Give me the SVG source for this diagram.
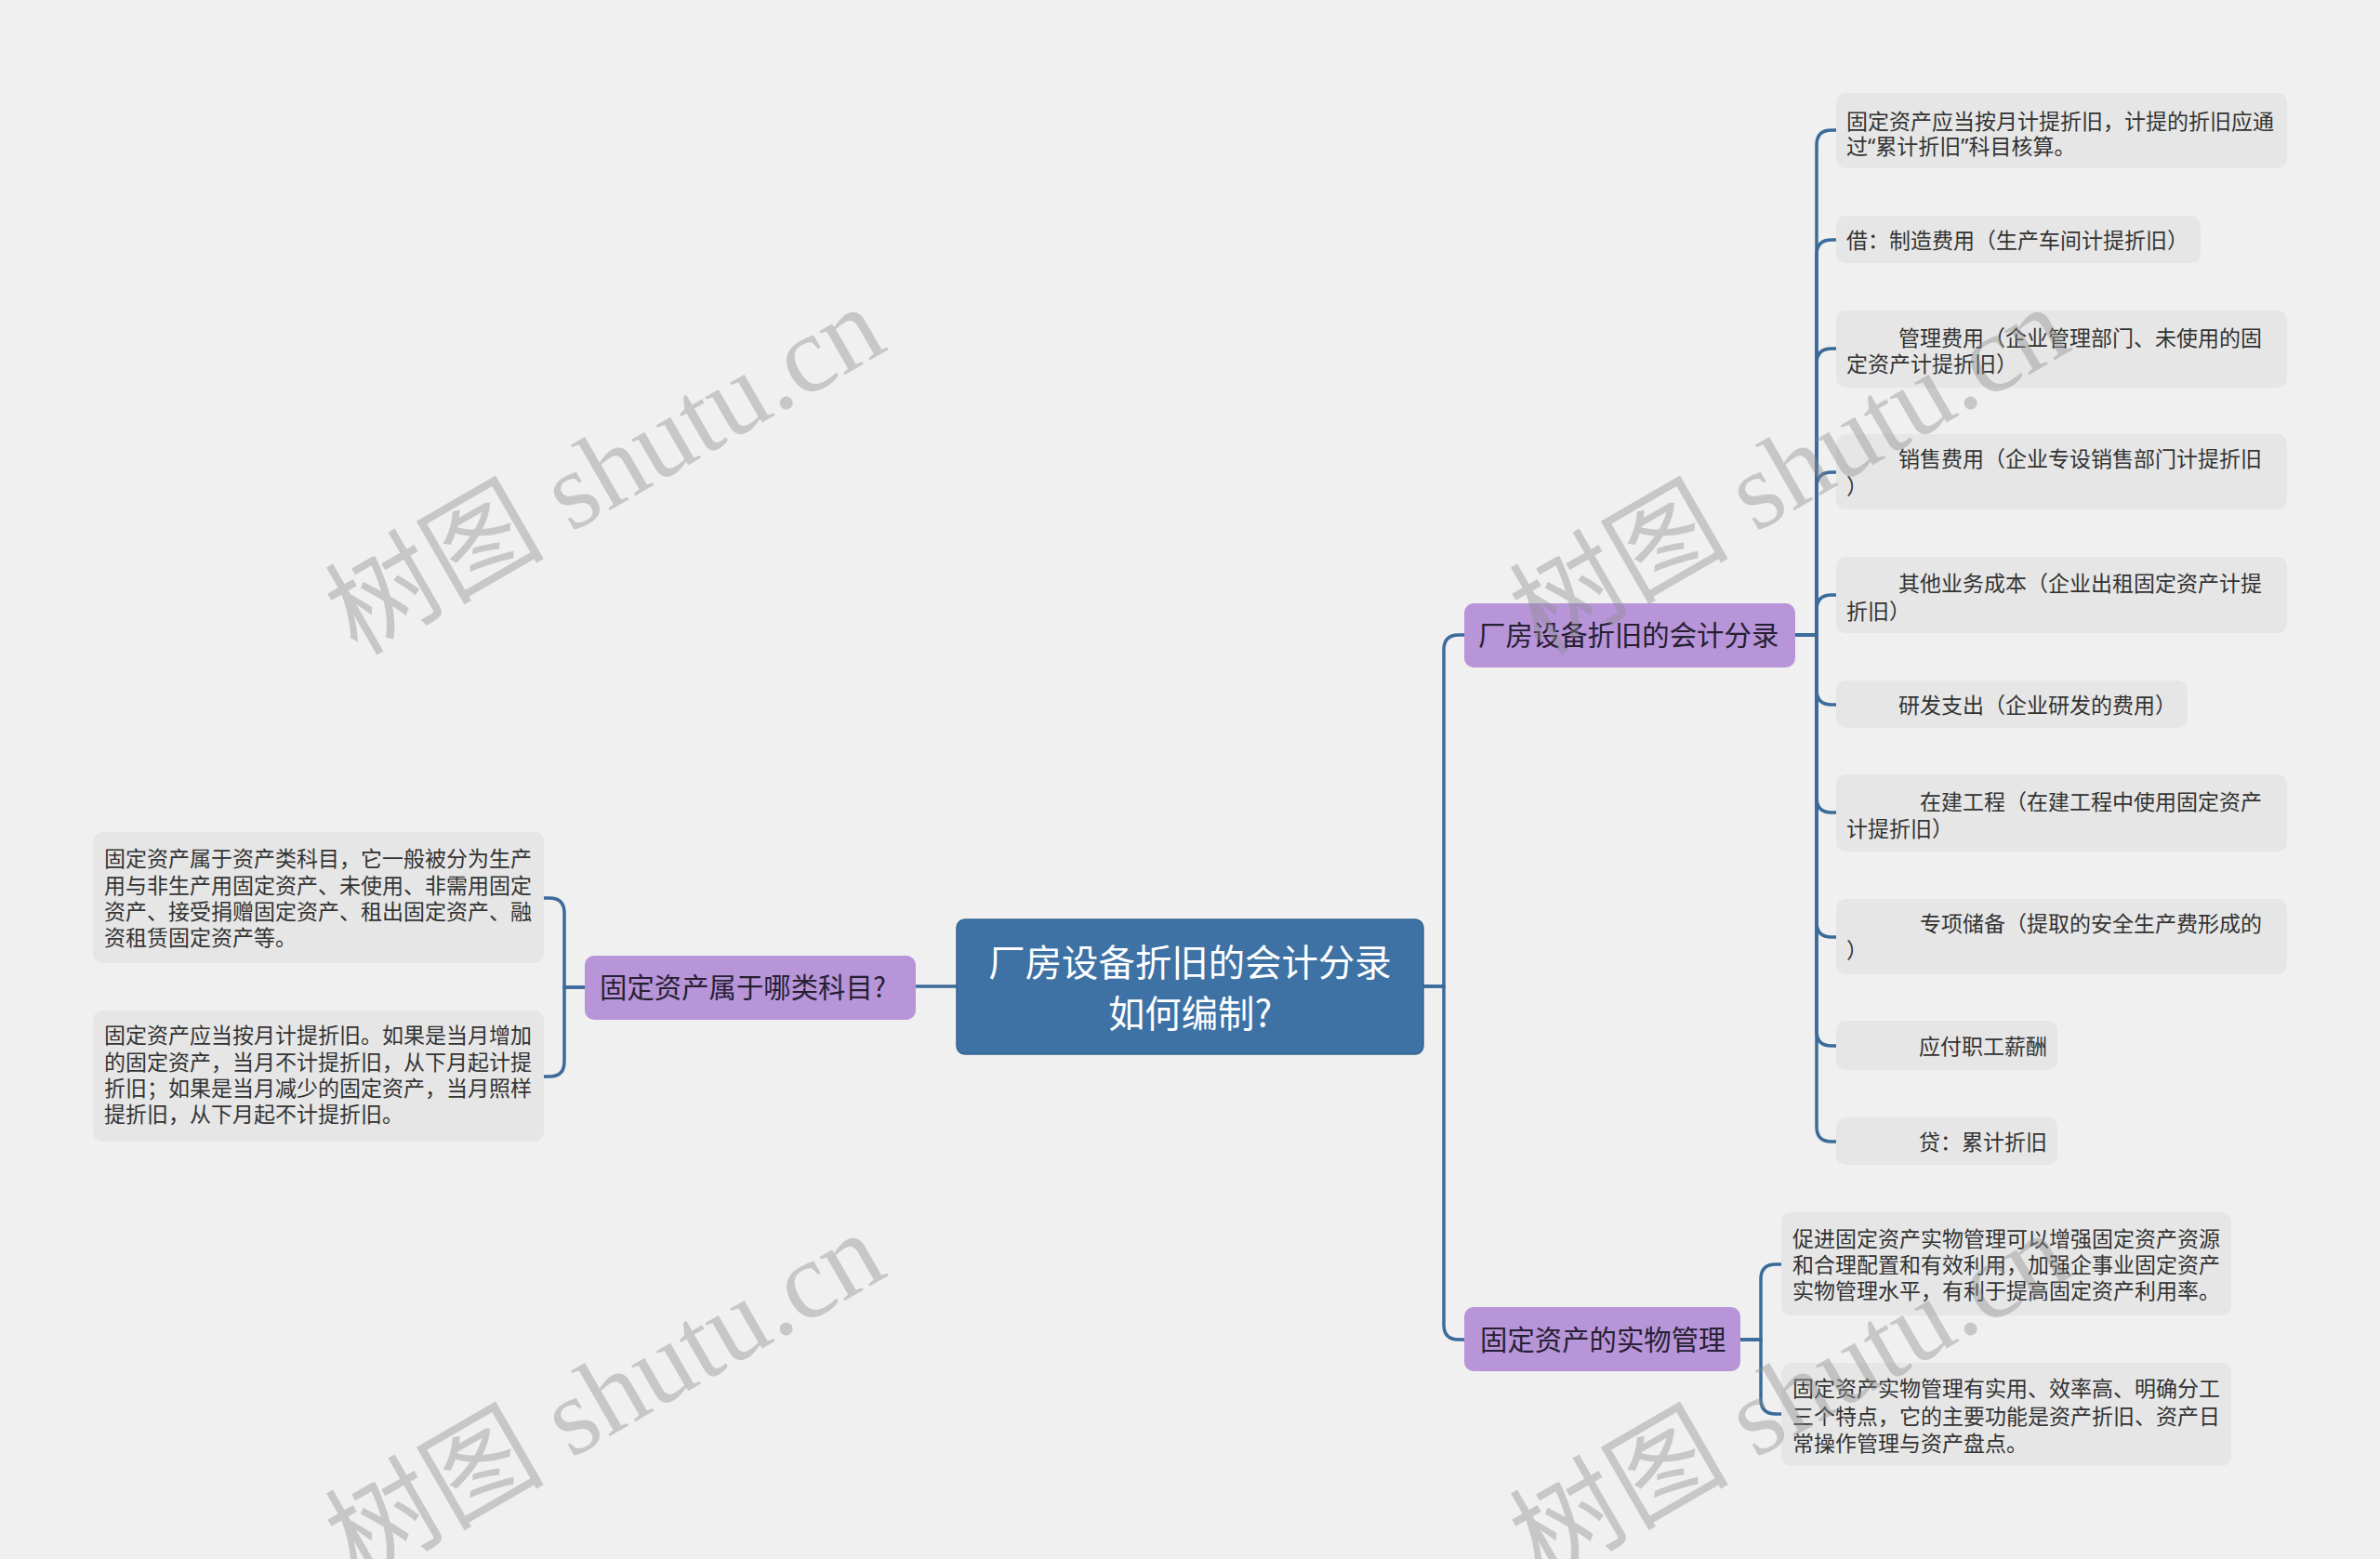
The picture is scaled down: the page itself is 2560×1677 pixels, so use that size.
<svg xmlns="http://www.w3.org/2000/svg" width="2560" height="1677" viewBox="0 0 2560 1677">
<style>
.bg{fill:#f0f0f0}
.leaf rect{fill:#e6e6e6}
.leaf text{font-family:"Noto Sans CJK SC","Noto Sans",sans-serif;font-size:23px;fill:#333}
.q{font-family:"Noto Sans","Liberation Sans",sans-serif}
.sub rect{fill:#b795d8}
.sub text{font-family:"Noto Sans CJK SC","Noto Sans",sans-serif;font-size:29.4px;fill:#262033}
.root rect{fill:#3e72a5;stroke:#35668f;stroke-width:1.5}
.root text{font-family:"Noto Sans CJK SC","Noto Sans",sans-serif;font-size:39.4px;fill:#fff}
.conn path{fill:none;stroke:#3b6b9a;stroke-width:3.5}
.wm{font-family:"Liberation Serif","Noto Sans CJK SC",serif;font-size:118px;fill:#8c8c8c;opacity:0.4}
</style>
<rect class="bg" x="0" y="0" width="2560" height="1677"/>

<g id="connectors" class="conn">
<path d="M1531,1061 H1553 V699 Q1553,683 1569,683 H1575"/>
<path d="M1531,1061 H1553 V1425 Q1553,1441 1569,1441 H1575"/>
<path d="M1029,1061 H985"/>
<path d="M629,1062 H607 V982 Q607,966 591,966 H585"/>
<path d="M629,1062 H607 V1142 Q607,1158 591,1158 H585"/>
<path d="M1931,683 H1954 V156 Q1954,140 1970,140 H1975"/>
<path d="M1931,683 H1954 V274 Q1954,258 1970,258 H1975"/>
<path d="M1931,683 H1954 V391 Q1954,375 1970,375 H1975"/>
<path d="M1931,683 H1954 V524 Q1954,508 1970,508 H1975"/>
<path d="M1931,683 H1954 V656 Q1954,640 1970,640 H1975"/>
<path d="M1931,683 H1954 V742 Q1954,758 1970,758 H1975"/>
<path d="M1931,683 H1954 V858 Q1954,874 1970,874 H1975"/>
<path d="M1931,683 H1954 V992 Q1954,1008 1970,1008 H1975"/>
<path d="M1931,683 H1954 V1109 Q1954,1125 1970,1125 H1975"/>
<path d="M1931,683 H1954 V1212 Q1954,1228 1970,1228 H1975"/>
<path d="M1872,1441 H1894 V1376 Q1894,1360 1910,1360 H1916"/>
<path d="M1872,1441 H1894 V1505 Q1894,1521 1910,1521 H1916"/>
</g>

<g id="root" class="root">
<rect x="1029" y="989" width="502" height="145" rx="9"/>
<text x="1280" y="1050" text-anchor="middle">厂房设备折旧的会计分录</text>
<text x="1280" y="1105" text-anchor="middle">如何编制?</text>
</g>

<g id="sub-left" class="sub">
<rect x="629" y="1028" width="356" height="69" rx="10"/>
<text x="645" y="1073">固定资产属于哪类科目?</text>
</g>

<g id="sub-right1" class="sub">
<rect x="1575" y="649" width="356" height="69" rx="10"/>
<text x="1590" y="694">厂房设备折旧的会计分录</text>
</g>

<g id="sub-right2" class="sub">
<rect x="1575" y="1406" width="297" height="69" rx="10"/>
<text x="1592" y="1452">固定资产的实物管理</text>
</g>

<g id="leaf-l1" class="leaf">
<rect x="100" y="895" width="485" height="141" rx="10"/>
<text x="112" y="932">固定资产属于资产类科目，它一般被分为生产</text>
<text x="112" y="961">用与非生产用固定资产、未使用、非需用固定</text>
<text x="112" y="989">资产、接受捐赠固定资产、租出固定资产、融</text>
<text x="112" y="1017">资租赁固定资产等。</text>
</g>
<g id="leaf-l2" class="leaf">
<rect x="100" y="1087" width="485" height="141" rx="10"/>
<text x="112" y="1122">固定资产应当按月计提折旧。如果是当月增加</text>
<text x="112" y="1151">的固定资产，当月不计提折旧，从下月起计提</text>
<text x="112" y="1179">折旧；如果是当月减少的固定资产，当月照样</text>
<text x="112" y="1207">提折旧，从下月起不计提折旧。</text>
</g>

<g id="leaf-r1" class="leaf">
<rect x="1975" y="100" width="485" height="81" rx="10"/>
<text x="1986" y="139">固定资产应当按月计提折旧，计提的折旧应通</text>
<text x="1986" y="166">过<tspan class="q">“</tspan>累计折旧<tspan class="q">”</tspan>科目核算。</text>
</g>
<g id="leaf-r2" class="leaf">
<rect x="1975" y="232" width="392" height="51" rx="10"/>
<text x="1986" y="267">借：制造费用（生产车间计提折旧）</text>
</g>
<g id="leaf-r3" class="leaf">
<rect x="1975" y="334" width="485" height="83" rx="10"/>
<text x="2042" y="372">管理费用（企业管理部门、未使用的固</text>
<text x="1986" y="400">定资产计提折旧）</text>
</g>
<g id="leaf-r4" class="leaf">
<rect x="1975" y="467" width="485" height="81" rx="10"/>
<text x="2042" y="502">销售费用（企业专设销售部门计提折旧</text>
<text x="1986" y="532">）</text>
</g>
<g id="leaf-r5" class="leaf">
<rect x="1975" y="599" width="485" height="82" rx="10"/>
<text x="2042" y="636">其他业务成本（企业出租固定资产计提</text>
<text x="1986" y="666">折旧）</text>
</g>
<g id="leaf-r6" class="leaf">
<rect x="1975" y="732" width="378" height="51" rx="10"/>
<text x="2042" y="767">研发支出（企业研发的费用）</text>
</g>
<g id="leaf-r7" class="leaf">
<rect x="1975" y="833" width="485" height="83" rx="10"/>
<text x="2065" y="871">在建工程（在建工程中使用固定资产</text>
<text x="1986" y="900">计提折旧）</text>
</g>
<g id="leaf-r8" class="leaf">
<rect x="1975" y="967" width="485" height="81" rx="10"/>
<text x="2065" y="1002">专项储备（提取的安全生产费形成的</text>
<text x="1986" y="1031">）</text>
</g>
<g id="leaf-r9" class="leaf">
<rect x="1975" y="1098" width="238" height="53" rx="10"/>
<text x="2064" y="1134">应付职工薪酬</text>
</g>
<g id="leaf-r10" class="leaf">
<rect x="1975" y="1202" width="238" height="51" rx="10"/>
<text x="2064" y="1237">贷：累计折旧</text>
</g>

<g id="leaf-b1" class="leaf">
<rect x="1916" y="1304" width="484" height="111" rx="10"/>
<text x="1928" y="1341">促进固定资产实物管理可以增强固定资产资源</text>
<text x="1928" y="1369">和合理配置和有效利用，加强企事业固定资产</text>
<text x="1928" y="1397">实物管理水平，有利于提高固定资产利用率。</text>
</g>
<g id="leaf-b2" class="leaf">
<rect x="1916" y="1466" width="484" height="111" rx="10"/>
<text x="1928" y="1502">固定资产实物管理有实用、效率高、明确分工</text>
<text x="1928" y="1532">三个特点，它的主要功能是资产折旧、资产日</text>
<text x="1928" y="1561">常操作管理与资产盘点。</text>
</g>

<g id="watermarks">
<text class="wm" transform="translate(384,706) rotate(-30)">树图 shutu.cn</text>
<text class="wm" transform="translate(384,1702) rotate(-30)">树图 shutu.cn</text>
<text class="wm" transform="translate(1658,706) rotate(-30)">树图 shutu.cn</text>
<text class="wm" transform="translate(1658,1702) rotate(-30)">树图 shutu.cn</text>
</g>
</svg>
